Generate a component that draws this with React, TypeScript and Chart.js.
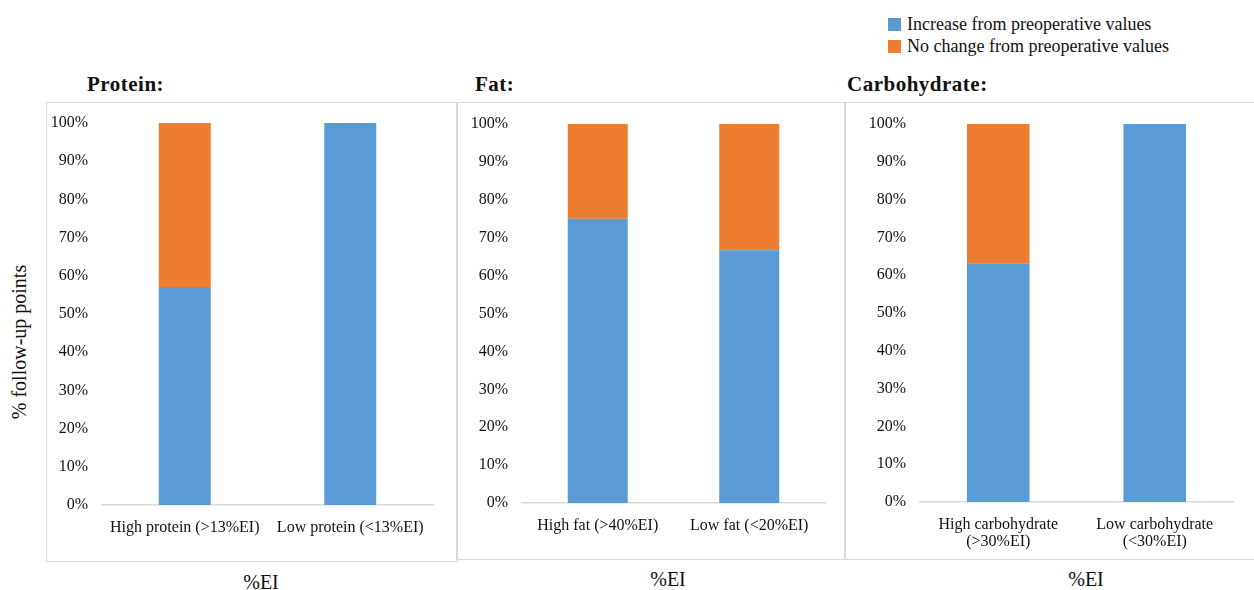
import React, { useEffect, useRef } from "react";
import { Chart, registerables } from "chart.js";

Chart.register(...registerables);

// data (share of follow-up points, %)
const proteinLabels = ["High protein (>13%EI)", "Low protein (<13%EI)"];
const proteinIncrease = [57.1, 100];
const proteinNoChange = [42.9, 0];

const fatLabels = ["High fat (>40%EI)", "Low fat (<20%EI)"];
const fatIncrease = [75, 66.7];
const fatNoChange = [25, 33.3];

const carbLabels = [
  ["High carbohydrate", "(>30%EI)"],
  ["Low carbohydrate", "(<30%EI)"],
];
const carbIncrease = [63, 100];
const carbNoChange = [37, 0];

const yTicks = [0, 10, 20, 30, 40, 50, 60, 70, 80, 90, 100];

const BLUE = "#5B9BD5";
const ORANGE = "#ED7D31";
const SERIF = "'Liberation Serif', 'Times New Roman', serif";

type Box = { left: number; top: number; right: number; bottom: number };

type PanelProps = {
  box: Box;
  plot: Box;
  labels: (string | string[])[];
  increase: number[];
  noChange: number[];
  barPct: number;
};

const Panel = ({ box, plot, labels, increase, noChange, barPct }: PanelProps) => {
  const canvasRef = useRef<HTMLCanvasElement>(null);
  const chartRef = useRef<Chart | null>(null);

  const width = Math.min(box.right, 1254) - box.left;
  const height = box.bottom - box.top;

  useEffect(() => {
    if (!canvasRef.current) return;
    const ctx = canvasRef.current.getContext("2d");
    if (!ctx) return;
    if (chartRef.current) chartRef.current.destroy();

    chartRef.current = new Chart(ctx, {
      type: "bar",
      data: {
        labels,
        datasets: [
          {
            label: "Increase from preoperative values",
            data: increase,
            backgroundColor: BLUE,
            barPercentage: barPct,
            categoryPercentage: 1,
          },
          {
            label: "No change from preoperative values",
            data: noChange,
            backgroundColor: ORANGE,
            barPercentage: barPct,
            categoryPercentage: 1,
          },
        ],
      },
      options: {
        animation: false,
        responsive: false,
        maintainAspectRatio: false,
        layout: {
          padding: {
            left: 0,
            top: plot.top - box.top,
            right: Math.min(box.right, 1254) - plot.right,
            bottom: 0,
          },
        },
        plugins: {
          legend: { display: false },
          tooltip: { enabled: false },
        },
        scales: {
          x: {
            stacked: true,
            grid: { display: false },
            border: { display: true, color: "#d9d9d9", width: 1.5 },
            ticks: {
              color: "#111",
              font: { family: SERIF, size: 16, lineHeight: 1.08 },
              padding: 6,
              maxRotation: 0,
              autoSkip: false,
            },
            afterFit: (scale) => {
              scale.height = box.bottom - plot.bottom;
            },
          },
          y: {
            stacked: true,
            min: 0,
            max: 100,
            grid: { display: false, drawTicks: false },
            border: { display: false },
            afterBuildTicks: (scale) => {
              scale.ticks = yTicks.map((v) => ({ value: v }));
            },
            ticks: {
              color: "#111",
              font: { family: SERIF, size: 16, lineHeight: 0.6 },
              padding: 14,
              callback: (v) => `${v}%`,
            },
            afterFit: (scale) => {
              scale.width = plot.left - box.left;
            },
          },
        },
      },
    });

    return () => {
      if (chartRef.current) {
        chartRef.current.destroy();
        chartRef.current = null;
      }
    };
  }, []);

  return (
    <>
      <div
        style={{
          position: "absolute",
          left: box.left,
          top: box.top,
          width,
          height,
        }}
      >
        <canvas ref={canvasRef} width={width} height={height} style={{ width, height }} />
      </div>
      <div
        style={{
          position: "absolute",
          left: box.left - 1,
          top: box.top - 1,
          width: box.right - box.left,
          height: box.bottom - box.top,
          border: "1.5px solid #d9d9d9",
          pointerEvents: "none",
        }}
      />
    </>
  );
};

const text = (
  content: string,
  left: number,
  top: number,
  size: number,
  extra: React.CSSProperties = {}
) => (
  <div
    style={{
      position: "absolute",
      left,
      top,
      fontFamily: SERIF,
      fontSize: size,
      lineHeight: 1,
      color: "#111",
      whiteSpace: "nowrap",
      ...extra,
    }}
  >
    {content}
  </div>
);

export default function App() {
  return (
    <div
      style={{
        position: "absolute",
        left: 0,
        top: 0,
        width: 1254,
        height: 590,
        background: "#fff",
        overflow: "hidden",
      }}
    >
      {/* legend */}
      <div style={{ position: "absolute", left: 888, top: 18, width: 13, height: 13, background: BLUE }} />
      <div style={{ position: "absolute", left: 888, top: 40, width: 13, height: 13, background: ORANGE }} />
      {text("Increase from preoperative values", 907, 15, 18)}
      {text("No change from preoperative values", 907, 37, 18)}

      {/* panel titles */}
      {text("Protein:", 87, 74, 21, { fontWeight: "bold", letterSpacing: 0.5 })}
      {text("Fat:", 475, 74, 21, { fontWeight: "bold", letterSpacing: 0.5 })}
      {text("Carbohydrate:", 847, 74, 21, { fontWeight: "bold", letterSpacing: 0.5 })}

      <Panel
        box={{ left: 47, top: 103, right: 457, bottom: 561 }}
        plot={{ left: 102, top: 123, right: 433, bottom: 505 }}
        labels={proteinLabels}
        increase={proteinIncrease}
        noChange={proteinNoChange}
        barPct={0.314}
      />
      <Panel
        box={{ left: 457, top: 103, right: 845, bottom: 559 }}
        plot={{ left: 522, top: 124, right: 825, bottom: 503 }}
        labels={fatLabels}
        increase={fatIncrease}
        noChange={fatNoChange}
        barPct={0.396}
      />
      <Panel
        box={{ left: 845, top: 103, right: 1262, bottom: 559 }}
        plot={{ left: 920, top: 124, right: 1233, bottom: 502 }}
        labels={carbLabels}
        increase={carbIncrease}
        noChange={carbNoChange}
        barPct={0.4}
      />

      {/* x axis titles */}
      {text("%EI", 261, 582, 20, { transform: "translate(-50%, -50%)" })}
      {text("%EI", 668, 579, 20, { transform: "translate(-50%, -50%)" })}
      {text("%EI", 1086, 579, 20, { transform: "translate(-50%, -50%)" })}

      {/* y axis title */}
      {text("% follow-up points", 19, 342, 20, {
        transform: "translate(-50%, -50%) rotate(-90deg)",
      })}
    </div>
  );
}
